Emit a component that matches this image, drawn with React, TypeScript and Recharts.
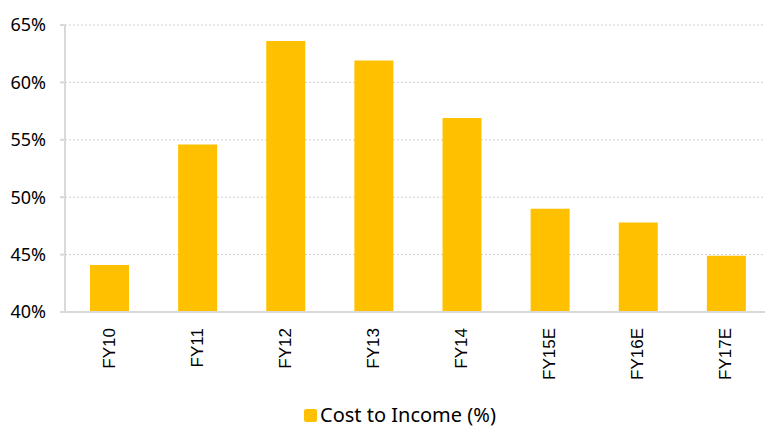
import React from 'react';
import { BarChart, Bar, XAxis, YAxis, CartesianGrid, Legend } from 'recharts';

const categories = ['FY10', 'FY11', 'FY12', 'FY13', 'FY14', 'FY15E', 'FY16E', 'FY17E'];
const costToIncome = [44.1, 54.6, 63.6, 61.9, 56.9, 49.0, 47.8, 44.9];
const yTicks = [40, 45, 50, 55, 60, 65];
const seriesName = 'Cost to Income (%)';

const data = categories.map((c, i) => ({ name: c, value: costToIncome[i] }));

const COLOR = '#FFC000';

const XTick = (props: any) => {
  const { x, y, payload } = props;
  const ty = y + 4;
  return (
    <text
      x={x}
      y={ty}
      transform={`rotate(-90, ${x}, ${ty})`}
      textAnchor="end"
      dominantBaseline="central"
      fontFamily="'Liberation Sans', Arial, sans-serif"
      fontSize={17}
      fill="#000"
    >
      {payload.value}
    </text>
  );
};

const LegendContent = () => (
  <div style={{ display: 'flex', alignItems: 'center', paddingLeft: 304, height: 30 }}>
    <span style={{ display: 'inline-block', width: 13, height: 13, background: COLOR, borderRadius: 2, marginRight: 3 }} />
    <span style={{ fontFamily: "'Noto Sans', sans-serif", fontSize: 20, color: '#000', lineHeight: '30px' }}>{seriesName}</span>
  </div>
);

export default function App() {
  return (
    <div style={{ position: 'absolute', left: 0, top: 0, width: 765, height: 430, overflow: 'hidden', background: '#fff' }}>
      <BarChart width={770} height={430} data={data} margin={{ top: 25, right: 0, bottom: 0, left: 0 }}>
        <CartesianGrid vertical={false} stroke="#cfcfcf" strokeDasharray="2 2" />
        <XAxis
          dataKey="name"
          height={88}
          axisLine={{ stroke: '#d9d9d9', strokeWidth: 2 }}
          tickLine={false}
          tickSize={0}
          tickMargin={12}
          interval={0}
          tick={<XTick />}
        />
        <YAxis
          width={65}
          domain={[40, 65]}
          ticks={yTicks}
          allowDataOverflow
          tickFormatter={(v: number) => `${v}%`}
          axisLine={{ stroke: '#d9d9d9', strokeWidth: 2 }}
          tickLine={{ stroke: '#d9d9d9', strokeWidth: 2 }}
          tickSize={5}
          tickMargin={14}
          tick={{ fill: '#000', fontSize: 18, fontFamily: "'Noto Sans', sans-serif" }}
        />
        <Legend verticalAlign="bottom" height={30} content={<LegendContent />} wrapperStyle={{ left: 0, width: 770 }} />
        <Bar dataKey="value" name={seriesName} fill={COLOR} barSize={39} isAnimationActive={false} />
      </BarChart>
    </div>
  );
}
